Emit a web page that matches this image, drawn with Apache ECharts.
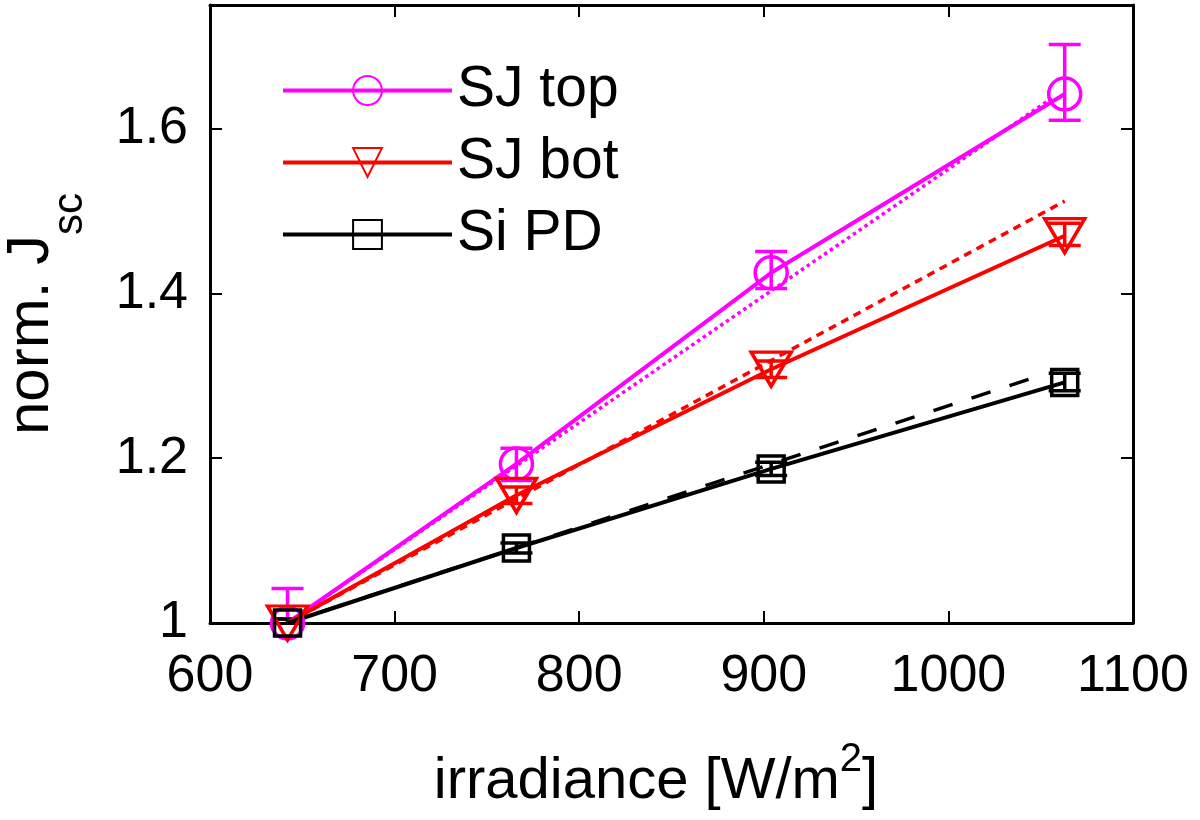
<!DOCTYPE html>
<html>
<head>
<meta charset="utf-8">
<script src="https://cdn.jsdelivr.net/npm/echarts@6/dist/echarts.min.js"></script>
<style>
  html, body { margin: 0; padding: 0; background: #fff; }
  #chart { width: 1200px; height: 820px; }
</style>
</head>
<body>
<div id="chart"></div>
<script>
// measured points
var irradiance = [642, 766, 904, 1063];

var sjTop = [1.0, 1.193, 1.425, 1.642];
var sjTopLow = [0.958, 1.173, 1.406, 1.61];
var sjTopHigh = [1.042, 1.212, 1.451, 1.702];

var sjBot = [1.0, 1.155, 1.308, 1.47];
var sjBotLow = [0.995, 1.145, 1.298, 1.458];
var sjBotHigh = [1.005, 1.165, 1.318, 1.485];

var siPd = [1.0, 1.091, 1.187, 1.292];
var siPdLow = [0.995, 1.085, 1.179, 1.282];
var siPdHigh = [1.005, 1.097, 1.195, 1.303];

// fitted lines (start / end)
var sjTopFit = [[642, 1.0], [1056, 1.637]];
var sjBotFit = [[642, 1.0], [1063, 1.512]];
var siPdFit = [[642, 1.0], [1048, 1.299]];

var MAGENTA = '#ff00ff';
var RED = '#ff0000';
var BLACK = '#000000';
var FONT = 'Liberation Sans, Arial, sans-serif';

var chart = echarts.init(document.getElementById('chart'));

var ctx = document.createElement('canvas').getContext('2d');
function textWidth(s, size) {
  ctx.font = size + 'px ' + FONT;
  return ctx.measureText(s).width;
}

// text piece placed by its baseline (local coords)
function piece(s, size, x, baseline) {
  return {
    type: 'text', x: x, y: baseline - 0.31 * size,
    style: { text: s, fontSize: size, fontFamily: FONT, fill: '#000', align: 'left', verticalAlign: 'middle' }
  };
}

// axis titles with sub/superscript
var yMainW = textWidth('norm. J', 60);
var ySubW = textWidth('sc', 42);
var yTotal = yMainW + ySubW;
var yTitle = {
  type: 'group', x: 50, y: 314, rotation: Math.PI / 2, silent: true,
  children: [
    piece('norm. J', 60, -yTotal / 2, 0),
    piece('sc', 42, -yTotal / 2 + yMainW, 33)
  ]
};

var xMainW = textWidth('irradiance [W/m', 58);
var xSupW = textWidth('2', 40);
var xEndW = textWidth(']', 58);
var xTotal = xMainW + xSupW + xEndW;
var xTitle = {
  type: 'group', x: 656, y: 800, silent: true,
  children: [
    piece('irradiance [W/m', 58, -xTotal / 2, 0),
    piece('2', 40, -xTotal / 2 + xMainW, -28),
    piece(']', 58, -xTotal / 2 + xMainW + xSupW, 0)
  ]
};

function pairs(ys) {
  return irradiance.map(function (x, i) { return [x, ys[i]]; });
}

function errorBars(color, lows, highs) {
  return {
    type: 'custom',
    clip: true,
    silent: true,
    z: 3,
    data: irradiance.map(function (x, i) { return [x, lows[i], highs[i]]; }),
    encode: { x: 0, y: [1, 2] },
    renderItem: function (params, api) {
      var lo = api.coord([api.value(0), api.value(1)]);
      var hi = api.coord([api.value(0), api.value(2)]);
      var hw = 16;
      var st = { stroke: color, lineWidth: 3.5, fill: null };
      return {
        type: 'group',
        children: [
          { type: 'line', shape: { x1: hi[0], y1: hi[1], x2: lo[0], y2: lo[1] }, style: st },
          { type: 'line', shape: { x1: hi[0] - hw, y1: hi[1], x2: hi[0] + hw, y2: hi[1] }, style: st },
          { type: 'line', shape: { x1: lo[0] - hw, y1: lo[1], x2: lo[0] + hw, y2: lo[1] }, style: st }
        ]
      };
    }
  };
}

function fitLine(data, color, type) {
  return {
    type: 'line',
    data: data,
    showSymbol: false,
    silent: true,
    z: 2,
    lineStyle: { color: color, width: 3.5, type: type },
    itemStyle: { color: color }
  };
}

function dataLine(name, ys, color, symbol, size, rotate) {
  return {
    name: name,
    type: 'line',
    data: pairs(ys),
    symbol: symbol,
    symbolSize: size,
    symbolRotate: rotate || 0,
    showAllSymbol: true,
    z: 4,
    lineStyle: { color: color, width: 4 },
    itemStyle: { color: 'rgba(0,0,0,0)', borderColor: color, borderWidth: 3.5 }
  };
}

var option = {
  animation: false,
  backgroundColor: '#fff',
  grid: { left: 210, right: 67, top: 5, bottom: 197 },
  graphic: [yTitle, xTitle],
  legend: {
    orient: 'vertical',
    left: 276,
    top: 57,
    itemWidth: 169,
    itemHeight: 36,
    itemGap: 15,
    lineStyle: { width: 4 },
    textStyle: { fontSize: 57, color: '#000', fontFamily: FONT },
    data: ['SJ top', 'SJ bot', 'Si PD']
  },
  xAxis: [{
    type: 'value',
    min: 600, max: 1100, interval: 100,
    axisLine: { lineStyle: { color: '#000', width: 3 } },
    axisTick: { inside: true, length: 12, lineStyle: { color: '#000', width: 2 } },
    axisLabel: { fontSize: 52, color: '#000', fontFamily: FONT, margin: 28,
      formatter: function (v) { return String(v); } },
    splitLine: { show: false }
  }, {
    type: 'value', position: 'top',
    min: 600, max: 1100, interval: 100,
    axisLine: { lineStyle: { color: '#000', width: 3 } },
    axisTick: { inside: true, length: 12, lineStyle: { color: '#000', width: 2 } },
    axisLabel: { show: false },
    splitLine: { show: false }
  }],
  yAxis: [{
    type: 'value',
    min: 1, max: 1.75, interval: 0.2,
    axisLine: { lineStyle: { color: '#000', width: 3 } },
    axisTick: { inside: true, length: 12, lineStyle: { color: '#000', width: 2 } },
    axisLabel: { fontSize: 52, color: '#000', fontFamily: FONT, margin: 22, showMaxLabel: false,
      formatter: function (v) { return String(Math.round(v * 10) / 10); } },
    splitLine: { show: false }
  }, {
    type: 'value', position: 'right',
    min: 1, max: 1.75, interval: 0.2,
    axisLine: { lineStyle: { color: '#000', width: 3 } },
    axisTick: { inside: true, length: 12, lineStyle: { color: '#000', width: 2 } },
    axisLabel: { show: false },
    splitLine: { show: false }
  }],
  series: [
    fitLine(sjTopFit, MAGENTA, 'dotted'),
    fitLine(sjBotFit, RED, [8, 6]),
    fitLine(siPdFit, BLACK, [20, 20]),
    errorBars(MAGENTA, sjTopLow, sjTopHigh),
    errorBars(RED, sjBotLow, sjBotHigh),
    errorBars(BLACK, siPdLow, siPdHigh),
    dataLine('SJ top', sjTop, MAGENTA, 'circle', 32),
    dataLine('SJ bot', sjBot, RED, 'triangle', [40, 34], 180),
    dataLine('Si PD', siPd, BLACK, 'rect', 26)
  ]
};

chart.setOption(option);
</script>
</body>
</html>
